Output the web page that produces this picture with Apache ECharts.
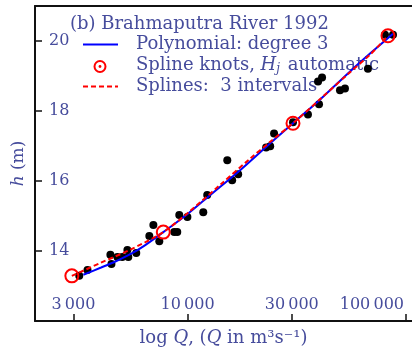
<!DOCTYPE html>
<html>
<head>
<meta charset="utf-8">
<script src="https://cdn.jsdelivr.net/npm/echarts@6/dist/echarts.min.js"></script>
<style>
  html, body { margin: 0; padding: 0; background: #fff; }
  #chart { width: 412px; height: 354px; }
</style>
</head>
<body>
<div id="chart"></div>
<script>
// observed stage-discharge pairs (Q in m3/s, h in m)
const obsQ = [3190, 3480, 4430, 4480, 4770, 5020, 5300, 5350, 5820, 6680, 6970, 7420,
  8690, 8970, 9160, 9980, 11800, 12300, 15200, 16000, 17050, 22900, 23900, 24900,
  30400, 35600, 40000, 39600, 41300, 49900, 52600, 67000, 80200, 87300];
const obsH = [13.29, 13.46, 13.89, 13.63, 13.83, 13.83, 14.03, 13.83, 13.94, 14.43, 14.74, 14.28,
  14.54, 14.54, 15.03, 14.97, 15.11, 15.60, 16.59, 16.02, 16.19, 16.96, 16.99, 17.36,
  17.68, 17.90, 18.19, 18.84, 18.96, 18.59, 18.64, 19.21, 20.18, 20.18];

// spline knots
const knotQ = [2950, 7740, 30400, 82800];
const knotH = [13.29, 14.54, 17.65, 20.15];

// cubic polynomial fit
const polyQ = [3330, 3990, 4670, 5470, 6400, 7740, 9970, 12700, 17400, 23900, 30400, 40500, 55500, 68500, 87300];
const polyH = [13.32, 13.52, 13.70, 13.91, 14.17, 14.54, 15.05, 15.60, 16.31, 17.08, 17.65, 18.33, 19.13, 19.64, 20.21];

// 3-interval spline
const splineQ = [2950, 3990, 5470, 7740, 10300, 14100, 19350, 23900, 30400, 40500, 55500, 68500, 82800];
const splineH = [13.29, 13.66, 14.04, 14.54, 15.15, 15.89, 16.64, 17.12, 17.65, 18.34, 19.11, 19.61, 20.15];

const qTicks = [3000, 10000, 30000, 100000];
const qTickLabels = ["3\u2009000", "10\u2009000", "30\u2009000", "100\u2009000"];
const hTicks = [14, 16, 18, 20];

const TXT = "#464c9c";
const FONT = "DejaVu Serif";
const LEG = 18;

const pairs = (qs, hs) => qs.map((q, i) => [Math.log10(q), hs[i]]);
const qTickPos = qTicks.map((q) => Math.log10(q));

const chart = echarts.init(document.getElementById("chart"), null, { renderer: "canvas" });

chart.setOption({
  animation: false,
  backgroundColor: "#fff",
  grid: { left: 35, right: 0, top: 6, bottom: 33 },
  xAxis: [
    {
      type: "value",
      min: Math.log10(2000),
      max: 5.028,
      name: "{n|log }{i|Q}{n|, (}{i|Q}{n| in m³s⁻¹)}",
      nameLocation: "middle",
      nameGap: 8,
      nameTextStyle: {
        rich: {
          n: { fontFamily: FONT, fontSize: 18, color: TXT },
          i: { fontFamily: FONT, fontSize: 18, color: TXT, fontStyle: "italic" },
        },
      },
      axisLine: { onZero: false, lineStyle: { color: "#111", width: 2 } },
      axisTick: { inside: true, length: 7, customValues: qTickPos, lineStyle: { color: "#111", width: 1.5 } },
      axisLabel: {
        inside: true,
        margin: 8,
        customValues: qTickPos,
        color: TXT,
        fontFamily: FONT,
        fontSize: 16,
        formatter: (v) => {
          const i = qTickPos.findIndex((p) => Math.abs(p - v) < 1e-6);
          if (i < 0) return "";
          return i === qTicks.length - 1 ? "{r|" + qTickLabels[i] + "}" : qTickLabels[i];
        },
        rich: { r: { color: TXT, fontFamily: FONT, fontSize: 16, padding: [0, 68, 0, 0] } },
      },
      splitLine: { show: false },
    },
    {
      type: "value",
      position: "top",
      min: Math.log10(2000),
      max: 5.028,
      axisLine: { show: true, lineStyle: { color: "#111", width: 2 } },
      axisTick: { show: false },
      axisLabel: { show: false },
      splitLine: { show: false },
    },
  ],
  yAxis: {
    type: "value",
    min: 12,
    max: 21,
    name: "{i|h} (m)",
    nameLocation: "middle",
    nameRotate: 90,
    nameGap: 8,
    nameTextStyle: {
      color: TXT,
      fontFamily: FONT,
      fontSize: 17,
      rich: { i: { fontFamily: FONT, fontSize: 17, color: TXT, fontStyle: "italic" } },
    },
    axisLine: { show: true, lineStyle: { color: "#111", width: 2 } },
    axisTick: { inside: true, length: 7, customValues: hTicks, lineStyle: { color: "#111", width: 1.5 } },
    axisLabel: { inside: true, margin: 14, customValues: hTicks, color: TXT, fontFamily: FONT, fontSize: 16 },
    splitLine: { show: false },
  },
  series: [
    {
      type: "scatter",
      data: pairs(obsQ, obsH),
      symbolSize: 8,
      itemStyle: { color: "#000", opacity: 1 },
      z: 2,
    },
    {
      type: "line",
      data: pairs(polyQ, polyH),
      smooth: 0.3,
      showSymbol: false,
      lineStyle: { color: "#0000ff", width: 2 },
      z: 3,
    },
    {
      type: "line",
      data: pairs(splineQ, splineH),
      smooth: 0.3,
      showSymbol: false,
      lineStyle: { color: "#ff0000", width: 2, type: [5, 3] },
      z: 4,
    },
    {
      type: "scatter",
      data: pairs(knotQ, knotH),
      symbolSize: 13,
      itemStyle: { color: "rgba(0,0,0,0)", borderColor: "#ff0000", borderWidth: 2, opacity: 1 },
      z: 5,
    },
  ],
  graphic: [
    {
      type: "text",
      left: 70,
      top: 15,
      style: { text: "(b) Brahmaputra River 1992", fill: TXT, font: LEG + "px '" + FONT + "'" },
    },
    { type: "line", shape: { x1: 83, y1: 44.5, x2: 118, y2: 44.5 }, style: { stroke: "#0000ff", lineWidth: 2 } },
    {
      type: "text",
      left: 136,
      top: 35,
      style: { text: "Polynomial: degree 3", fill: TXT, font: LEG + "px '" + FONT + "'" },
    },
    { type: "circle", shape: { cx: 100, cy: 66.5, r: 5.5 }, style: { fill: "none", stroke: "#ff0000", lineWidth: 2 } },
    { type: "circle", shape: { cx: 100, cy: 66.5, r: 1.4 }, style: { fill: "#ff0000" } },
    {
      type: "text",
      left: 136,
      top: 56,
      style: {
        text: "{n|Spline knots, }{i|H}{s|j}{n| automatic}",
        rich: {
          n: { fill: TXT, fontFamily: FONT, fontSize: LEG },
          i: { fill: TXT, fontFamily: FONT, fontSize: LEG, fontStyle: "italic" },
          s: { fill: TXT, fontFamily: FONT, fontSize: 12, fontStyle: "italic", padding: [7, 2, 0, 0] },
        },
      },
    },
    {
      type: "line",
      shape: { x1: 83, y1: 86.5, x2: 118, y2: 86.5 },
      style: { stroke: "#ff0000", lineWidth: 2, lineDash: [5, 3] },
    },
    {
      type: "text",
      left: 136,
      top: 77,
      style: { text: "Splines:  3 intervals", fill: TXT, font: LEG + "px '" + FONT + "'" },
    },
  ],
});
</script>
</body>
</html>
